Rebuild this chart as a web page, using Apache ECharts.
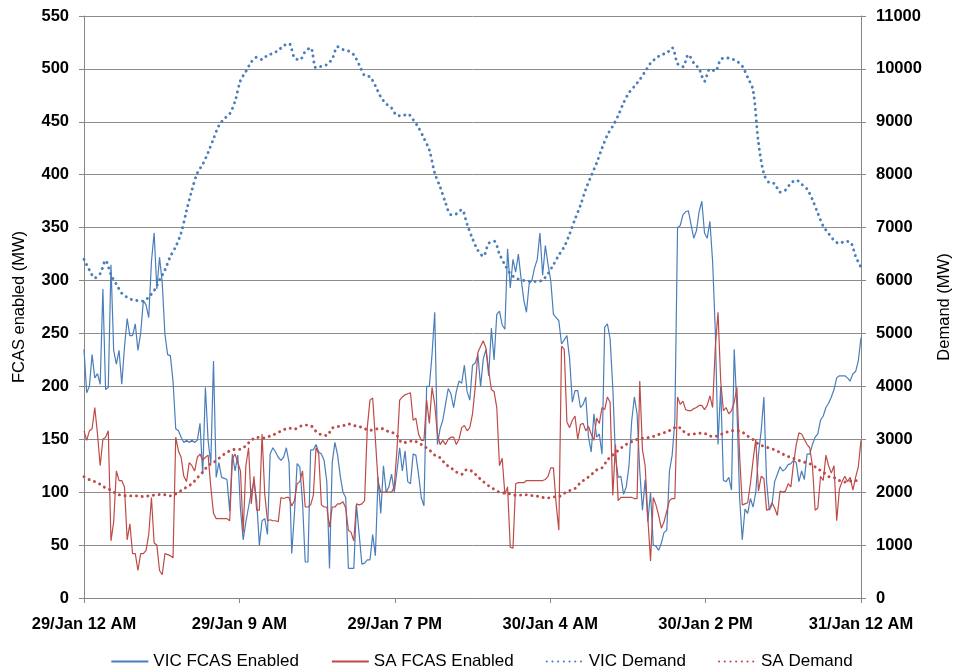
<!DOCTYPE html>
<html>
<head>
<meta charset="utf-8">
<script src="https://cdn.jsdelivr.net/npm/echarts@6/dist/echarts.min.js"></script>
<style>
  html, body { margin: 0; padding: 0; background: #fff; }
  #chart { width: 963px; height: 672px; }
</style>
</head>
<body>
<div id="chart"></div>
<script>
// Time axis runs in minutes from 29/Jan 00:00 to 31/Jan 00:00
const timeLabels = ['29/Jan 12 AM', '29/Jan 9 AM', '29/Jan 7 PM', '30/Jan 4 AM', '30/Jan 2 PM', '31/Jan 12 AM'];
const fcasStepMin = 10;    // FCAS samples every 10 minutes
const demandStepMin = 20;  // demand samples every 20 minutes

// VIC FCAS enabled (MW)
const vicFcas = [
  235,194,200,230,208,212,202,292,197,199,315,234,221,234,202,237,264,248,248,259,
  234,250,281,277,265,318,345,292,322,298,249,230,229,205,160,158,152,147,149,147,
  149,147,149,165,117,199,149,127,224,
  114,128,114,113,112,82,136,120,135,84,55,72,86,100,110,92,50,73,75,60,
  136,142,138,133,130,133,142,128,42,80,127,124,90,34,34,140,140,145,138,136,
  130,110,28,128,147,135,115,100,
  95,28,28,28,88,60,32,33,36,36,60,40,114,80,125,100,105,117,100,120,
  142,120,139,110,108,136,135,117,95,87,200,200,230,270,145,160,168,183,198,193,
  180,195,205,203,220,195,187,220,
  222,230,200,226,235,210,255,225,268,271,258,254,330,293,320,308,325,302,282,270,
  297,300,312,320,345,305,333,315,300,268,265,262,240,244,248,226,185,196,196,180,
  183,190,152,138,174,152,155,136,
  256,259,245,199,133,114,115,98,105,125,167,190,174,120,83,112,72,100,50,49,
  45,52,62,64,120,135,167,350,352,362,365,366,353,340,347,365,375,345,340,356,
  318,252,145,200,111,110,114,102,
  235,180,95,55,84,80,94,86,100,136,158,190,110,83,88,110,117,124,120,122,
  126,127,130,128,110,120,112,136,136,145,152,155,168,172,180,184,190,197,208,210,
  210,210,208,205,212,214,224,246
];

// SA FCAS enabled (MW)
const saFcas = [
  158,149,158,160,180,155,125,150,152,158,54,72,120,111,111,105,55,70,42,42,
  26,42,42,45,60,95,52,50,26,22,42,41,40,38,152,139,133,115,110,128,
  125,120,133,136,130,133,135,105,80,
  75,75,75,75,75,73,132,136,128,120,62,125,142,89,115,83,83,155,98,73,
  74,73,73,72,95,94,95,95,87,92,108,110,120,86,86,88,97,142,136,88,
  86,86,67,86,86,89,89,91,
  85,64,62,54,89,88,89,92,161,187,189,150,110,100,100,100,100,100,105,140,
  187,190,192,193,194,168,170,155,149,149,187,165,199,183,155,145,149,145,150,152,
  152,145,150,161,163,158,161,174,
  199,232,238,243,236,215,197,195,180,125,132,98,105,48,47,108,109,109,109,111,
  111,111,111,111,111,111,112,115,123,123,89,64,238,235,166,161,168,172,150,164,
  165,158,162,155,149,170,165,180,
  178,190,185,97,145,92,95,95,95,95,95,94,94,205,140,125,75,35,95,88,
  78,66,72,82,92,94,94,190,183,186,178,177,177,179,180,182,182,178,182,191,
  180,237,270,205,177,180,174,177,
  185,199,135,88,89,90,108,130,150,101,115,113,83,84,90,85,78,101,100,101,
  108,105,127,145,156,155,150,145,142,125,83,85,115,111,135,125,118,125,73,103,
  110,115,110,114,102,114,124,149
];

// VIC demand (MW)
const vicDemand = [
  6400,6200,6050,6130,6380,6110,5930,5760,5683,5635,5620,5610,5690,5810,6010,6200,6455,6640,6898,7320,
  7709,8030,8200,8418,8680,8930,9060,9150,9390,9780,9950,10130,10220,10177,10260,10291,10350,10440,10480,10210,
  10170,10329,10400,10019,10050,10082,10190,10420,10365,10340,10266,10080,9873,9850,9680,9470,9340,9260,9120,9114,
  9150,9040,8890,8690,8468,8030,7770,7470,7245,7260,7340,7063,6790,6570,6460,6700,6745,6500,6300,6130,
  6048,6010,5995,5980,5980,6012,6130,6300,6480,6640,6880,7160,7420,7728,7980,8220,8500,8750,8920,9120,
  9360,9550,9670,9800,9950,10110,10200,10270,10300,10400,10100,10040,10270,10114,10000,9766,10000,9960,10180,10210,
  10190,10146,10050,9840,9600,8600,8019,7848,7830,7670,7710,7840,7898,7820,7730,7530,7270,7030,6890,6760,
  6700,6740,6730,6460,6250
];

// SA demand (MW)
const saDemand = [
  2290,2236,2200,2150,2080,2040,1970,1940,1930,1930,1930,1917,1930,1943,1955,1950,1930,1968,2030,2096,
  2160,2270,2380,2500,2560,2640,2720,2780,2809,2809,2880,2980,3038,3019,3045,3080,3128,3180,3210,3191,
  3242,3268,3260,3150,3083,3070,3210,3240,3255,3290,3260,3242,3200,3170,3190,3210,3160,3135,3070,2930,
  2950,2975,2930,2870,2800,2700,2650,2530,2460,2380,2338,2430,2390,2290,2200,2120,2055,2000,1981,1968,
  1940,1945,1949,1936,1925,1900,1892,1910,1917,1980,2030,2070,2180,2250,2330,2420,2460,2608,2700,2790,
  2870,2930,2980,3012,3025,3040,3070,3110,3140,3190,3240,3160,3090,3100,3114,3110,3060,3055,3090,3130,
  3160,3160,3135,3060,2995,2910,2866,2835,2800,2750,2695,2656,2620,2580,2555,2515,2440,2380,2295,2276,
  2220,2191,2210,2220,2191
];

const BLUE = '#4a7ebb';
const RED = '#be4b48';
const AXIS_GREY = '#868686';
const FONT = '"Liberation Sans", Arial, sans-serif';
const DOTS = [0.1, 5.6];

const withTime = (arr, step) => arr.map((v, i) => [i * step, v]);

const chart = echarts.init(document.getElementById('chart'), null, { renderer: 'canvas' });

chart.setOption({
  animation: false,
  backgroundColor: '#ffffff',
  textStyle: { fontFamily: FONT },
  grid: { left: 84, right: 102, top: 16, bottom: 74, containLabel: false },
  legend: {
    top: 648,
    left: 'center',
    itemWidth: 37,
    itemHeight: 10,
    itemGap: 32,
    itemStyle: { opacity: 0 },
    textStyle: { fontFamily: FONT, fontSize: 17, color: '#000' },
    data: ['VIC FCAS Enabled', 'SA FCAS Enabled', 'VIC Demand', 'SA Demand']
  },
  xAxis: {
    type: 'value',
    min: 0,
    max: 2880,
    interval: 576,
    axisLine: { show: true, lineStyle: { color: AXIS_GREY, width: 1 } },
    axisTick: { show: true, length: 5, lineStyle: { color: AXIS_GREY } },
    splitLine: { show: false },
    axisLabel: {
      fontFamily: FONT, fontSize: 16.5, fontWeight: 'bold', color: '#000', margin: 18,
      formatter: v => timeLabels[Math.round(v / 576)] || ''
    }
  },
  yAxis: [
    {
      type: 'value',
      min: 0, max: 550, interval: 50,
      name: 'FCAS enabled (MW)',
      nameLocation: 'middle',
      nameRotate: 90,
      nameGap: 56,
      nameTextStyle: { fontFamily: FONT, fontSize: 16.5, color: '#000' },
      axisLine: { show: true, lineStyle: { color: AXIS_GREY, width: 1 } },
      axisTick: { show: true, length: 5, lineStyle: { color: AXIS_GREY } },
      splitLine: { show: true, lineStyle: { color: '#8c8c8c', width: 1 } },
      axisLabel: { fontFamily: FONT, fontSize: 16.5, fontWeight: 'bold', color: '#000', margin: 15 }
    },
    {
      type: 'value',
      min: 0, max: 11000, interval: 1000,
      position: 'right',
      name: 'Demand (MW)',
      nameLocation: 'middle',
      nameRotate: 90,
      nameGap: 75,
      nameTextStyle: { fontFamily: FONT, fontSize: 16.5, color: '#000' },
      axisLine: { show: true, lineStyle: { color: AXIS_GREY, width: 1 } },
      axisTick: { show: true, length: 5, lineStyle: { color: AXIS_GREY } },
      splitLine: { show: false },
      axisLabel: {
        fontFamily: FONT, fontSize: 16.5, fontWeight: 'bold', color: '#000', margin: 15,
        formatter: v => String(v)
      }
    }
  ],
  series: [
    {
      name: 'VIC FCAS Enabled', type: 'line', yAxisIndex: 0,
      symbol: 'none', smooth: false,
      lineStyle: { color: BLUE, width: 1.2 },
      itemStyle: { color: BLUE },
      data: withTime(vicFcas, fcasStepMin)
    },
    {
      name: 'SA FCAS Enabled', type: 'line', yAxisIndex: 0,
      symbol: 'none', smooth: false,
      lineStyle: { color: RED, width: 1.2 },
      itemStyle: { color: RED },
      data: withTime(saFcas, fcasStepMin)
    },
    {
      name: 'VIC Demand', type: 'line', yAxisIndex: 1,
      symbol: 'none', smooth: 0.3,
      lineStyle: { color: BLUE, width: 2.9, type: DOTS, cap: 'round' },
      itemStyle: { color: BLUE },
      data: withTime(vicDemand, demandStepMin)
    },
    {
      name: 'SA Demand', type: 'line', yAxisIndex: 1,
      symbol: 'none', smooth: 0.3,
      lineStyle: { color: RED, width: 2.9, type: DOTS, cap: 'round' },
      itemStyle: { color: RED },
      data: withTime(saDemand, demandStepMin)
    }
  ]
});
</script>
</body>
</html>
